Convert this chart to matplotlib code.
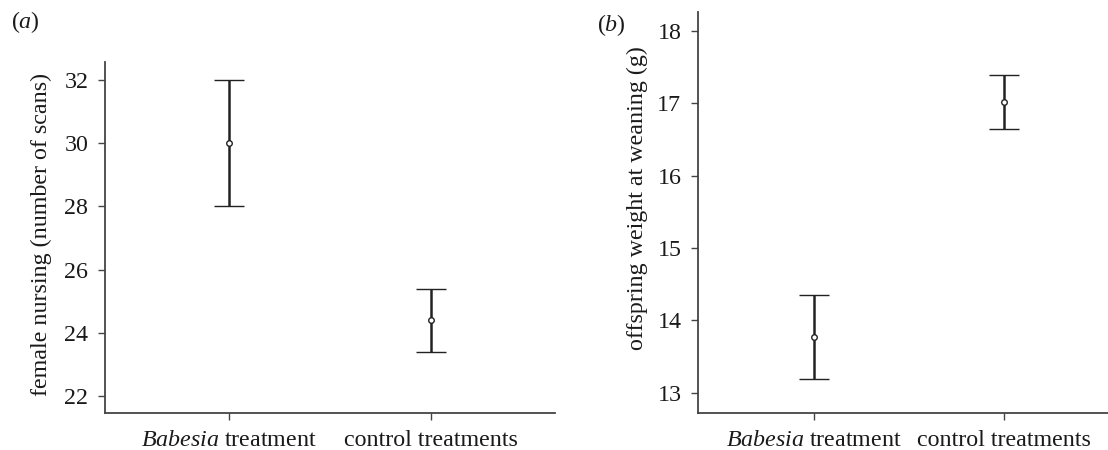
import matplotlib
matplotlib.use("Agg")
import matplotlib.pyplot as plt

# data
groups = [r"$\it{Babesia}$ treatment", "control treatments"]
nursing_mean = [30.0, 24.4]
nursing_err = [2.0, 1.0]
weight_mean = [13.77, 17.02]
weight_err = [0.58, 0.37]

plt.rcParams["font.family"] = ["Liberation Serif", "DejaVu Serif"]
plt.rcParams["mathtext.fontset"] = "custom"
plt.rcParams["mathtext.rm"] = "Liberation Serif"
plt.rcParams["mathtext.it"] = "Liberation Serif:italic"

LINE = "#222222"
SPINE = "#444444"
FS = 17.3

fig = plt.figure(figsize=(11.08, 4.5), dpi=100)
ax_a = fig.add_axes([0.0948, 0.0822, 0.406, 0.780])
ax_b = fig.add_axes([0.630, 0.0822, 0.381, 0.891])


def style(ax, ylabel, yticks, ylim, label_y):
    xs = [1, 2]
    ax.set_xlim(0.386, 2.614)
    ax.set_ylim(*ylim)
    ax.set_yticks(yticks)
    ax.set_xticks(xs)
    ax.set_xticklabels(groups)
    for side in ("top", "right"):
        ax.spines[side].set_visible(False)
    for side in ("left", "bottom"):
        ax.spines[side].set_color(SPINE)
        ax.spines[side].set_linewidth(1.3)
    ax.tick_params(axis="both", direction="out", length=5, width=1.0,
                   color=SPINE, labelsize=FS, labelcolor="#1a1a1a")
    ax.tick_params(axis="y", pad=7)
    ax.tick_params(axis="x", pad=7)
    ax.set_ylabel(ylabel, fontsize=FS, color="#1a1a1a")
    ax.yaxis.set_label_coords(-0.118, label_y)


for ax, mean, err in ((ax_a, nursing_mean, nursing_err), (ax_b, weight_mean, weight_err)):
    ax.errorbar([1, 2], mean, yerr=err, fmt="o", color=LINE, ecolor=LINE,
                elinewidth=1.8, capsize=11, capthick=1.8, markersize=4,
                markerfacecolor="white", markeredgecolor=LINE, markeredgewidth=1.0,
                clip_on=False, zorder=3)

style(ax_a, "female nursing (number of scans)", [22, 24, 26, 28, 30, 32],
      (21.46, 32.57), 0.51)
style(ax_b, "offspring weight at weaning (g)", [13, 14, 15, 16, 17, 18],
      (12.72, 18.26), 0.536)

fig.text(25 / 1108, 1 - 22 / 450, r"($\it{a}$)", fontsize=FS, ha="center", va="center",
         color="#1a1a1a")
fig.text(611 / 1108, 1 - 25 / 450, r"($\it{b}$)", fontsize=FS, ha="center", va="center",
         color="#1a1a1a")

fig.savefig("out.png", dpi=100)
